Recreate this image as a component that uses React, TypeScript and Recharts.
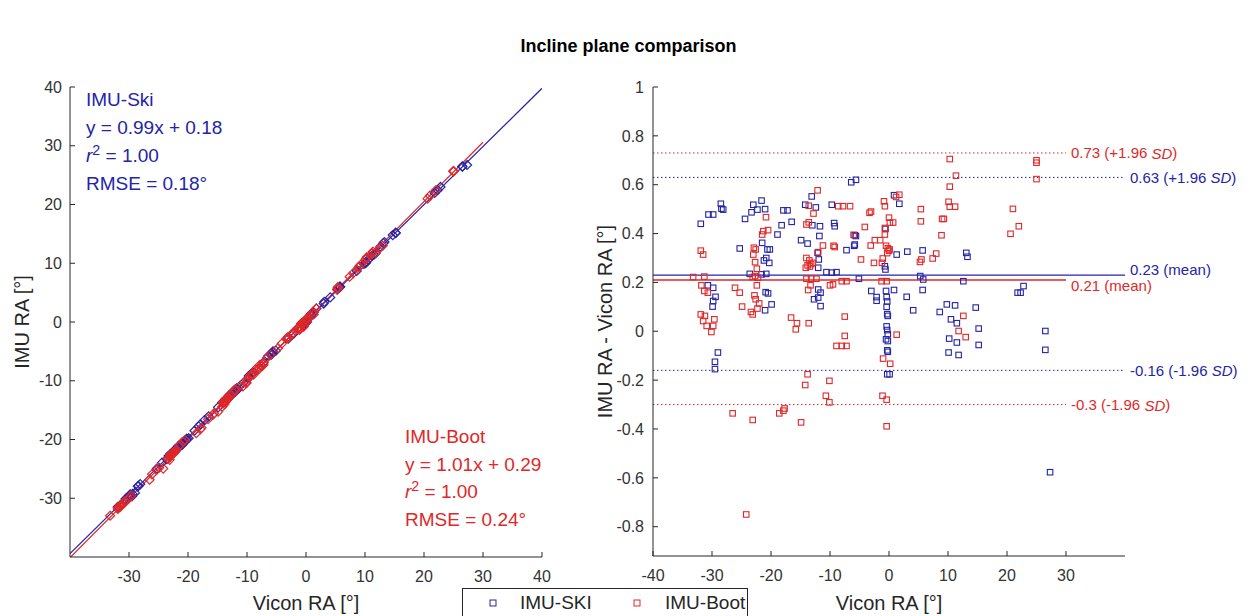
import React from 'react';
import { ScatterChart, Scatter, XAxis, YAxis, ReferenceLine } from 'recharts';

const FONT = '"Liberation Sans", Arial, Helvetica, sans-serif';
const BLUE = '#2424a8';
const RED = '#e02828';
const AXIS = '#262626';

// IMU-Ski: Vicon RA [deg] and IMU - Vicon difference [deg]
const skiVicon = [
  -31.9, -30.6, -29.8, -28.5, -28.1, -28.4, -30.7, -29.8, -29.4, -29.8, -29.9, -29.0, -29.5, -29.5,
  -25.3, -24.4, -23.3, -23.0, -21.6, -22.3, -21.0, -21.5, -20.8, -20.3, -20.6, -20.2, -21.2, -23.6,
  -21.6, -20.8, -20.9, -20.5, -19.9, -21.0, -18.9, -18.2, -17.2, -17.9, -16.5, -14.9, -13.8, -14.2,
  -13.1, -12.4, -11.7, -12.1, -11.9, -12.0, -12.0, -11.6, -12.0, -11.6, -12.7, -13.0, -11.8, -10.6,
  -9.7, -8.9, -9.7, -9.3, -9.2, -7.2, -5.8, -5.9, -6.4, -5.6, -5.8, -5.6, -5.1, -3.0, -2.1, -2.1,
  -0.6, -0.7, -0.6, -0.5, -0.4, -0.3, -0.4, -0.3, -0.2, -0.4, -0.3, -0.2, -0.5, -0.2, -0.3, -0.2,
  -0.3, 0.1, 0.85, 0.85, 1.75, 1.3, 3.1, 5.7, 3.0, 4.1, 5.7, 5.3, 5.8, 8.6, 9.8, 11.2, 14.7, 10.5,
  11.5, 15.2, 10.2, 11.5, 15.2, 10.1, 11.8, 12.6, 13.1, 13.3, 21.8, 22.3, 22.8, 26.5, 26.5, 27.3,
];
const skiDiff = [
  0.44, 0.478, 0.478, 0.522, 0.498, 0.502, 0.188, 0.178, 0.141, 0.124, 0.101, -0.087, -0.125, -0.155,
  0.339, 0.46, 0.487, 0.518, 0.535, 0.498, 0.5, 0.362, 0.3, 0.28, 0.335, 0.335, 0.29, 0.235,
  0.233, 0.235, 0.16, 0.155, 0.11, 0.086, 0.396, 0.434, 0.495, 0.495, 0.448, 0.373, 0.359, 0.518,
  0.552, 0.507, 0.43, 0.321, 0.294, 0.26, 0.171, 0.158, 0.138, 0.103, 0.131, 0.434, 0.39, 0.242,
  0.24, 0.242, 0.518, 0.443, 0.43, 0.332, 0.355, 0.35, 0.61, 0.62, 0.393, 0.39, 0.215, 0.165, 0.14, 0.125,
  0.419, 0.266, 0.253, 0.165, 0.14, 0.122, 0.1, 0.07, 0.063, 0.02, 0.005, -0.012, -0.033, -0.04, -0.078, -0.084,
  -0.176, -0.176, 0.169, 0.557, 0.522, 0.314, 0.326, 0.331, 0.141, 0.086, 0.169, 0.226, 0.212, 0.079, 0.11, 0.106, 0.097, 0.049,
  0.033, 0.011, -0.03, -0.046, -0.056, -0.087, -0.097, 0.205, 0.321, 0.305, 0.158, 0.158, 0.185, 0.001, -0.076, -0.577,
];

// IMU-Boot: Vicon RA [deg] and IMU - Vicon difference [deg]
const bootVicon = [
  -31.9, -31.5, -33.2, -31.3, -31.8, -31.3, -30.7, -31.9, -31.2, -31.5, -30.9, -30.1, -29.6, -29.8,
  -26.1, -25.3, -24.9, -22.9, -22.6, -21.5, -20.5, -21.3, -20.85, -23.0, -22.7, -22.4, -22.7, -22.2,
  -23.1, -22.4, -22.8, -22.6, -22.0, -22.3, -23.4, -23.1, -16.6, -15.6, -13.6, -15.8, -14.0, -13.6,
  -12.8, -12.1, -13.6, -14.0, -13.5, -13.2, -13.8, -12.9, -13.4, -14.1, -14.0, -13.2, -12.3, -13.3,
  -13.7, -12.0, -11.2, -9.4, -9.2, -10.0, -9.5, -8.6, -7.8, -6.6, -8.0, -7.2, -7.5, -7.5, -8.9, -8.0,
  -7.2, -6.0, -4.75, -4.1, -3.3, -3.05, -3.1, -2.55, -2.4, -1.5, -0.85, -0.7, 0.0, 0.15, 0.7, -0.7,
  -0.7, -0.5, -0.2, 0.0, -0.3, 0.1, -1.05, -1.2, -1.25, -0.4, 1.75, 1.2, -1.0, 0.2, 1.3, -1.1, -0.4,
  -0.4, 5.4, 5.4, 5.25, 5.5, 7.4, 8.0, 9.0, 9.3, 8.9, 10.3, 11.35, 10.3, 10.1, 10.3, 11.2, 12.6, 11.8,
  13.0, 25.0, 25.0, 25.0, 21.0, 22.0, 20.6, -26.5, -23.1, -24.2, -18.6, -17.9, -17.7, -14.9, -14.2,
  -13.8, -10.7, -10.1, -10.1,
];
const bootDiff = [
  0.33, 0.314, 0.222, 0.224, 0.188, 0.165, 0.158, 0.069, 0.063, 0.042, 0.022, -0.003, 0.049, 0.022,
  0.178, 0.158, 0.101, 0.342, 0.335, 0.396, 0.414, 0.41, 0.467, 0.314, 0.283, 0.256, 0.226, 0.219,
  0.222, 0.188, 0.147, 0.131, 0.114, 0.093, 0.079, 0.069, 0.056, 0.033, 0.033, 0.008, 0.437, 0.446,
  0.482, 0.577, 0.514, 0.3, 0.29, 0.275, 0.27, 0.28, 0.265, 0.26, 0.215, 0.215, 0.215, 0.188,
  0.169, 0.324, 0.351, 0.35, 0.345, 0.188, 0.192, 0.512, 0.512, 0.512, 0.205, 0.205, 0.06, -0.019, -0.06, -0.06,
  -0.06, 0.395, 0.294, 0.427, 0.485, 0.49, 0.351, 0.28, 0.373, 0.373, 0.532, 0.512, 0.465, 0.445, 0.445, 0.423,
  0.396, 0.35, 0.34, 0.33, 0.32, 0.335, 0.298, 0.28, 0.205, 0.205, 0.559, 0.55, -0.112, -0.133, -0.014, -0.264, -0.28,
  -0.389, 0.5, 0.45, 0.284, 0.294, 0.298, 0.318, 0.46, 0.46, 0.393, 0.705, 0.637, 0.592, 0.53, 0.51, 0.51, 0.063, 0.001,
  -0.024, 0.7, 0.69, 0.623, 0.501, 0.43, 0.399, -0.336, -0.363, -0.75, -0.336, -0.325, -0.316, -0.373, -0.22,
  -0.176, -0.264, -0.291, -0.203,
];

// regression fits [slope, intercept] and the x range each line is drawn over
const skiFit = [0.99, 0.18];
const bootFit = [1.01, 0.29];
const skiFitRange = [-40, 40];
const bootFitRange = [-40, 30];

// Bland-Altman statistics: mean, lower and upper limits of agreement
const skiLimits = [0.23, -0.16, 0.63];
const bootLimits = [0.21, -0.3, 0.73];

const leftTicks = [-30, -20, -10, 0, 10, 20, 30, 40];
const rightXTicks = [-40, -30, -20, -10, 0, 10, 20, 30];
const rightYTicks = [-0.8, -0.6, -0.4, -0.2, 0, 0.2, 0.4, 0.6, 0.8, 1];

const skiLeft = skiVicon.map((v, i) => ({ x: v, y: v + skiDiff[i] }));
const bootLeft = bootVicon.map((v, i) => ({ x: v, y: v + bootDiff[i] }));
const skiBA = skiVicon.map((v, i) => ({ x: v, y: skiDiff[i] }));
const bootBA = bootVicon.map((v, i) => ({ x: v, y: bootDiff[i] }));

const fitSegment = (fit: number[], range: number[]) =>
  range.map((x) => ({ x, y: fit[0] * x + fit[1] }));

const squareShape = (color: string) => (p: any) => (
  <rect x={p.cx - 2.75} y={p.cy - 2.75} width={5.5} height={5.5} fill="none" stroke={color} strokeWidth={1.1} />
);

const diamondShape = (color: string) => (p: any) => (
  <path
    d={`M${p.cx},${p.cy - 4.5}L${p.cx + 4.5},${p.cy}L${p.cx},${p.cy + 4.5}L${p.cx - 4.5},${p.cy}Z`}
    fill="none"
    stroke={color}
    strokeWidth={1.2}
  />
);

const tickStyle = { fill: '#333', fontSize: 16, fontFamily: FONT };

const xTitle = (text: string) => (props: any) => {
  const vb = props.viewBox || {};
  return (
    <text x={vb.x + vb.width / 2} y={603} textAnchor="middle" dominantBaseline="central"
      fill={AXIS} fontSize={20} fontFamily={FONT}>
      {text}
    </text>
  );
};

const yTitle = (text: string, cx: number) => (props: any) => {
  const vb = props.viewBox || {};
  const cy = vb.y + vb.height / 2;
  return (
    <text x={cx} y={cy} transform={`rotate(-90 ${cx} ${cy})`} textAnchor="middle"
      dominantBaseline="central" fill={AXIS} fontSize={20} fontFamily={FONT}>
      {text}
    </text>
  );
};

const lineLabel = (value: number, kind: string, color: string, dy: number) => (props: any) => {
  const vb = props.viewBox || {};
  const x = (vb.x ?? 0) + (vb.width ?? 0) + 5;
  const y = (vb.y ?? 0) + dy;
  return (
    <text x={x} y={y} fill={color} fontSize={15} fontFamily={FONT} dominantBaseline="central">
      {kind === 'mean' ? (
        `${value} (mean)`
      ) : (
        <>
          {`${value} (${kind}1.96 `}
          <tspan fontStyle="italic">SD</tspan>)
        </>
      )}
    </text>
  );
};

const Annotation = ({ lines, color, left, top, lh }: any) => (
  <div style={{ position: 'absolute', left, top, color, fontFamily: FONT, fontSize: 19, lineHeight: `${lh}px` }}>
    {lines.map((l: any, i: number) => (
      <div key={i} style={{ whiteSpace: 'nowrap' }}>{l}</div>
    ))}
  </div>
);

const r2 = (
  <span>
    <i>r</i>
    <sup style={{ fontSize: '0.75em', lineHeight: 0 }}>2</sup> = 1.00
  </span>
);

const LegendMarker = ({ color }: { color: string }) => (
  <svg width={8} height={8} style={{ display: 'block' }}>
    <rect x={1} y={1} width={6} height={6} fill="none" stroke={color} strokeWidth={1} />
  </svg>
);

export default function App() {
  return (
    <div style={{ position: 'absolute', left: 0, top: 0, width: 1257, height: 616, background: '#fff', overflow: 'hidden' }}>
      <div style={{ position: 'absolute', left: 0, width: 1257, top: 36, textAlign: 'center', fontFamily: FONT, fontWeight: 'bold', fontSize: 18, color: '#000' }}>
        Incline plane comparison
      </div>

      <div style={{ position: 'absolute', left: 0, top: 0 }}>
        <ScatterChart width={600} height={616} margin={{ top: 87, right: 58, bottom: 29, left: 10 }}>
          <XAxis type="number" dataKey="x" domain={[-40, 40]} ticks={leftTicks} interval={0} allowDataOverflow
            height={30} axisLine={{ stroke: AXIS }} tickLine={{ stroke: AXIS }} tickSize={-5} tickMargin={19}
            tick={tickStyle} label={xTitle('Vicon RA [°]')} />
          <YAxis type="number" dataKey="y" domain={[-40, 40]} ticks={leftTicks} interval={0} allowDataOverflow
            width={60} axisLine={{ stroke: AXIS }} tickLine={{ stroke: AXIS }} tickSize={-5} tickMargin={13}
            tick={tickStyle} label={yTitle('IMU RA [°]', 22)} />
          <ReferenceLine segment={fitSegment(skiFit, skiFitRange)} stroke={BLUE} strokeWidth={1.2} ifOverflow="hidden" />
          <ReferenceLine segment={fitSegment(bootFit, bootFitRange)} stroke={RED} strokeWidth={1.2} ifOverflow="hidden" />
          <Scatter data={skiLeft} shape={diamondShape(BLUE)} isAnimationActive={false} />
          <Scatter data={bootLeft} shape={diamondShape(RED)} isAnimationActive={false} />
        </ScatterChart>
      </div>

      <div style={{ position: 'absolute', left: 580, top: 0 }}>
        <ScatterChart width={677} height={616} margin={{ top: 87, right: 132, bottom: 30, left: 28 }}>
          <XAxis type="number" dataKey="x" domain={[-40, 40]} ticks={rightXTicks} interval={0} allowDataOverflow
            height={30} axisLine={{ stroke: AXIS }} tickLine={{ stroke: AXIS }} tickSize={-5} tickMargin={19}
            tick={tickStyle} label={xTitle('Vicon RA [°]')} />
          <YAxis type="number" dataKey="y" domain={[-0.92, 1]} ticks={rightYTicks} interval={0} allowDataOverflow
            width={45} axisLine={{ stroke: AXIS }} tickLine={{ stroke: AXIS }} tickSize={-5} tickMargin={14}
            tick={tickStyle} label={yTitle('IMU RA - Vicon RA [°]', 25)} />
          <Scatter data={skiBA} shape={squareShape(BLUE)} isAnimationActive={false} />
          <Scatter data={bootBA} shape={squareShape(RED)} isAnimationActive={false} />
          <ReferenceLine segment={[{ x: -40, y: skiLimits[2] }, { x: 40, y: skiLimits[2] }]} stroke={BLUE}
            strokeDasharray="1.5 2.5" ifOverflow="visible" label={lineLabel(skiLimits[2], '+', BLUE, 0)} />
          <ReferenceLine segment={[{ x: -40, y: skiLimits[1] }, { x: 40, y: skiLimits[1] }]} stroke={BLUE}
            strokeDasharray="1.5 2.5" ifOverflow="visible" label={lineLabel(skiLimits[1], '-', BLUE, 0)} />
          <ReferenceLine segment={[{ x: -40, y: bootLimits[2] }, { x: 30, y: bootLimits[2] }]} stroke={RED}
            strokeDasharray="1.5 2.5" ifOverflow="visible" label={lineLabel(bootLimits[2], '+', RED, 0)} />
          <ReferenceLine segment={[{ x: -40, y: bootLimits[1] }, { x: 30, y: bootLimits[1] }]} stroke={RED}
            strokeDasharray="1.5 2.5" ifOverflow="visible" label={lineLabel(bootLimits[1], '-', RED, 0)} />
          <ReferenceLine segment={[{ x: -40, y: skiLimits[0] }, { x: 40, y: skiLimits[0] }]} stroke={BLUE}
            strokeWidth={1.4} ifOverflow="visible" label={lineLabel(skiLimits[0], 'mean', BLUE, -6)} />
          <ReferenceLine segment={[{ x: -40, y: bootLimits[0] }, { x: 30, y: bootLimits[0] }]} stroke={RED}
            strokeWidth={1.4} ifOverflow="visible" label={lineLabel(bootLimits[0], 'mean', RED, 6)} />
        </ScatterChart>
      </div>

      <Annotation color={BLUE} left={86} top={86} lh={28}
        lines={['IMU-Ski', 'y = 0.99x + 0.18', r2, 'RMSE = 0.18°']} />
      <Annotation color={RED} left={405} top={423} lh={27.5}
        lines={['IMU-Boot', 'y = 1.01x + 0.29', r2, 'RMSE = 0.24°']} />

      <div style={{ position: 'absolute', left: 462, top: 588, width: 286, height: 40, border: `1px solid ${AXIS}`,
        boxSizing: 'border-box', background: '#fff', fontFamily: FONT, fontSize: 19, color: AXIS }}>
        <div style={{ position: 'absolute', left: 26, top: 10 }}><LegendMarker color={BLUE} /></div>
        <div style={{ position: 'absolute', left: 57, top: 1, lineHeight: '26px' }}>IMU-SKI</div>
        <div style={{ position: 'absolute', left: 170, top: 10 }}><LegendMarker color={RED} /></div>
        <div style={{ position: 'absolute', left: 202, top: 1, lineHeight: '26px' }}>IMU-Boot</div>
      </div>
    </div>
  );
}
